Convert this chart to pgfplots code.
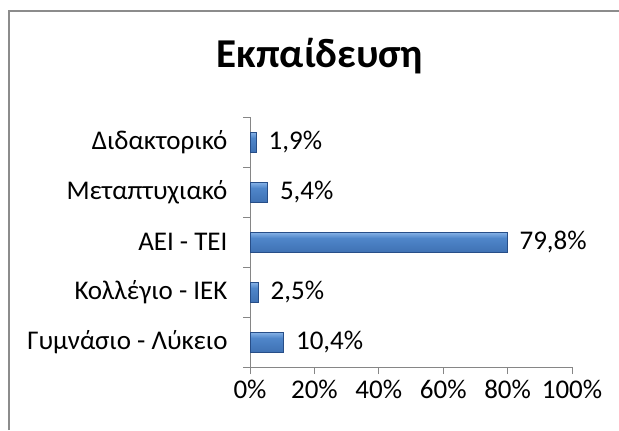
\documentclass[border=0pt]{standalone}
\usepackage{fontspec}
\setmainfont{Carlito}
\usepackage{pgfplots}
\pgfplotsset{compat=1.18}
\definecolor{axgray}{HTML}{868686}
\definecolor{framegray}{HTML}{8C8C8C}
\definecolor{barlight}{HTML}{9CC4F2}
\definecolor{barmid}{HTML}{4F86CA}
\definecolor{barmidb}{HTML}{3E70B2}
\definecolor{bardark}{HTML}{274E88}
\pgfdeclareverticalshading{barshade}{100bp}{color(0bp)=(bardark); color(22bp)=(barmidb); color(60bp)=(barmid); color(80bp)=(barlight); color(100bp)=(barlight)}
\pgfplotsset{mybar/.style={draw=bardark, line width=0.6bp, shading=barshade}}
\begin{document}
\begin{tikzpicture}[x=1bp,y=1bp]
\useasboundingbox (0,0) rectangle (619,430);
\draw[framegray, line width=1.5bp] (9,0) -- (9,419) -- (619,419);
\node[font=\fontsize{41bp}{48bp}\selectfont\bfseries, anchor=base] at (320,363) {Εκπαίδευση};
\begin{axis}[
  at={(250bp,63bp)}, anchor=south west,
  scale only axis, width=322bp, height=250bp,
  xmin=0, xmax=100, ymin=-0.5, ymax=4.5,
  xbar, bar width=20bp, bar shift=0pt,
  axis x line*=bottom, axis y line*=left,
  axis line style={axgray, line width=1bp, -},
  tick align=outside, major tick length=7bp,
  tick style={axgray, line width=1bp},
  xtick={0,20,...,100},
  xticklabel={\pgfmathprintnumber{\tick}\%},
  /pgf/number format/assume math mode=true,
  ytick={-0.5,0.5,...,4.5},
  y tick label as interval,
  yticklabels={Γυμνάσιο - Λύκειο, Κολλέγιο - ΙΕΚ, ΑΕΙ - ΤΕΙ, Μεταπτυχιακό, Διδακτορικό},
  ticklabel style={font=\fontsize{27bp}{31bp}\selectfont},
  yticklabel style={anchor=east, xshift=-12bp},
  xticklabel style={yshift=-3bp},
  point meta=x,
  nodes near coords={\pgfmathprintnumber[fixed,fixed zerofill,precision=1,use comma]{\pgfplotspointmeta}\%},
  nodes near coords style={font=\fontsize{27bp}{31bp}\selectfont, anchor=west, xshift=9bp, text=black},
  clip=false,
]
\addplot[mybar] coordinates {(10.4,0)};
\addplot[mybar] coordinates {(2.5,1)};
\addplot[mybar] coordinates {(79.8,2)};
\addplot[mybar] coordinates {(5.4,3)};
\addplot[mybar] coordinates {(1.9,4)};
\end{axis}
\end{tikzpicture}
\end{document}
